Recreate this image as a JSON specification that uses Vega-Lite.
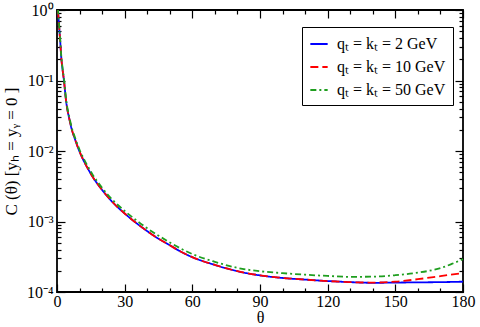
{
  "$schema": "https://vega.github.io/schema/vega-lite/v6.json",
  "width": 406,
  "height": 282,
  "autosize": "none",
  "padding": {"left": 57, "top": 10, "right": 17, "bottom": 35},
  "config": {
    "view": {"stroke": "black", "strokeWidth": 1.8},
    "axis": {
      "grid": false,
      "labelFont": "Liberation Serif",
      "labelFontSize": 16,
      "labelColor": "black",
      "titleFont": "Liberation Serif",
      "titleFontSize": 16,
      "titleFontWeight": "normal",
      "titleColor": "black",
      "tickColor": "black",
      "tickWidth": 1.2,
      "domain": false
    },
    "legend": {
      "labelFont": "Liberation Serif",
      "labelFontSize": 16,
      "labelColor": "black"
    }
  },
  "datasets": {
    "curves": [
      {"theta": 0.4, "C": 1.0, "series": "qₜ = kₜ = 2 GeV"},
      {"theta": 0.7, "C": 0.75, "series": "qₜ = kₜ = 2 GeV"},
      {"theta": 1.0, "C": 0.55, "series": "qₜ = kₜ = 2 GeV"},
      {"theta": 1.4, "C": 0.37, "series": "qₜ = kₜ = 2 GeV"},
      {"theta": 1.9, "C": 0.21, "series": "qₜ = kₜ = 2 GeV"},
      {"theta": 2.5, "C": 0.14, "series": "qₜ = kₜ = 2 GeV"},
      {"theta": 3.1, "C": 0.099, "series": "qₜ = kₜ = 2 GeV"},
      {"theta": 4, "C": 0.052, "series": "qₜ = kₜ = 2 GeV"},
      {"theta": 4.6, "C": 0.0387, "series": "qₜ = kₜ = 2 GeV"},
      {"theta": 5.5, "C": 0.0282, "series": "qₜ = kₜ = 2 GeV"},
      {"theta": 6.5, "C": 0.0205, "series": "qₜ = kₜ = 2 GeV"},
      {"theta": 8, "C": 0.0146, "series": "qₜ = kₜ = 2 GeV"},
      {"theta": 10, "C": 0.0098, "series": "qₜ = kₜ = 2 GeV"},
      {"theta": 12, "C": 0.0071, "series": "qₜ = kₜ = 2 GeV"},
      {"theta": 14, "C": 0.0054, "series": "qₜ = kₜ = 2 GeV"},
      {"theta": 16, "C": 0.0042, "series": "qₜ = kₜ = 2 GeV"},
      {"theta": 18, "C": 0.0034, "series": "qₜ = kₜ = 2 GeV"},
      {"theta": 20, "C": 0.0028, "series": "qₜ = kₜ = 2 GeV"},
      {"theta": 25, "C": 0.00183, "series": "qₜ = kₜ = 2 GeV"},
      {"theta": 30, "C": 0.0013, "series": "qₜ = kₜ = 2 GeV"},
      {"theta": 35, "C": 0.00096, "series": "qₜ = kₜ = 2 GeV"},
      {"theta": 40, "C": 0.00073, "series": "qₜ = kₜ = 2 GeV"},
      {"theta": 45, "C": 0.00057, "series": "qₜ = kₜ = 2 GeV"},
      {"theta": 50, "C": 0.00046, "series": "qₜ = kₜ = 2 GeV"},
      {"theta": 55, "C": 0.000372, "series": "qₜ = kₜ = 2 GeV"},
      {"theta": 60, "C": 0.000312, "series": "qₜ = kₜ = 2 GeV"},
      {"theta": 70, "C": 0.000242, "series": "qₜ = kₜ = 2 GeV"},
      {"theta": 80, "C": 0.000197, "series": "qₜ = kₜ = 2 GeV"},
      {"theta": 90, "C": 0.000172, "series": "qₜ = kₜ = 2 GeV"},
      {"theta": 100, "C": 0.000158, "series": "qₜ = kₜ = 2 GeV"},
      {"theta": 110, "C": 0.00015, "series": "qₜ = kₜ = 2 GeV"},
      {"theta": 120, "C": 0.000143, "series": "qₜ = kₜ = 2 GeV"},
      {"theta": 130, "C": 0.000138, "series": "qₜ = kₜ = 2 GeV"},
      {"theta": 140, "C": 0.000135, "series": "qₜ = kₜ = 2 GeV"},
      {"theta": 150, "C": 0.000136, "series": "qₜ = kₜ = 2 GeV"},
      {"theta": 160, "C": 0.000137, "series": "qₜ = kₜ = 2 GeV"},
      {"theta": 170, "C": 0.000138, "series": "qₜ = kₜ = 2 GeV"},
      {"theta": 180, "C": 0.00014, "series": "qₜ = kₜ = 2 GeV"},

      {"theta": 0.4, "C": 1.0, "series": "qₜ = kₜ = 10 GeV"},
      {"theta": 0.7, "C": 0.75, "series": "qₜ = kₜ = 10 GeV"},
      {"theta": 1.0, "C": 0.55, "series": "qₜ = kₜ = 10 GeV"},
      {"theta": 1.4, "C": 0.37, "series": "qₜ = kₜ = 10 GeV"},
      {"theta": 1.9, "C": 0.21, "series": "qₜ = kₜ = 10 GeV"},
      {"theta": 2.5, "C": 0.14, "series": "qₜ = kₜ = 10 GeV"},
      {"theta": 3.1, "C": 0.099, "series": "qₜ = kₜ = 10 GeV"},
      {"theta": 4, "C": 0.052, "series": "qₜ = kₜ = 10 GeV"},
      {"theta": 4.6, "C": 0.0387, "series": "qₜ = kₜ = 10 GeV"},
      {"theta": 5.5, "C": 0.0282, "series": "qₜ = kₜ = 10 GeV"},
      {"theta": 6.5, "C": 0.0205, "series": "qₜ = kₜ = 10 GeV"},
      {"theta": 8, "C": 0.0146, "series": "qₜ = kₜ = 10 GeV"},
      {"theta": 10, "C": 0.0098, "series": "qₜ = kₜ = 10 GeV"},
      {"theta": 12, "C": 0.0071, "series": "qₜ = kₜ = 10 GeV"},
      {"theta": 14, "C": 0.0054, "series": "qₜ = kₜ = 10 GeV"},
      {"theta": 16, "C": 0.0042, "series": "qₜ = kₜ = 10 GeV"},
      {"theta": 18, "C": 0.0034, "series": "qₜ = kₜ = 10 GeV"},
      {"theta": 20, "C": 0.0028, "series": "qₜ = kₜ = 10 GeV"},
      {"theta": 25, "C": 0.00183, "series": "qₜ = kₜ = 10 GeV"},
      {"theta": 30, "C": 0.0013, "series": "qₜ = kₜ = 10 GeV"},
      {"theta": 35, "C": 0.00096, "series": "qₜ = kₜ = 10 GeV"},
      {"theta": 40, "C": 0.00073, "series": "qₜ = kₜ = 10 GeV"},
      {"theta": 45, "C": 0.00057, "series": "qₜ = kₜ = 10 GeV"},
      {"theta": 50, "C": 0.00046, "series": "qₜ = kₜ = 10 GeV"},
      {"theta": 55, "C": 0.000372, "series": "qₜ = kₜ = 10 GeV"},
      {"theta": 60, "C": 0.000312, "series": "qₜ = kₜ = 10 GeV"},
      {"theta": 70, "C": 0.000242, "series": "qₜ = kₜ = 10 GeV"},
      {"theta": 80, "C": 0.000197, "series": "qₜ = kₜ = 10 GeV"},
      {"theta": 90, "C": 0.000172, "series": "qₜ = kₜ = 10 GeV"},
      {"theta": 100, "C": 0.000158, "series": "qₜ = kₜ = 10 GeV"},
      {"theta": 110, "C": 0.00015, "series": "qₜ = kₜ = 10 GeV"},
      {"theta": 120, "C": 0.000143, "series": "qₜ = kₜ = 10 GeV"},
      {"theta": 130, "C": 0.000138, "series": "qₜ = kₜ = 10 GeV"},
      {"theta": 140, "C": 0.000136, "series": "qₜ = kₜ = 10 GeV"},
      {"theta": 150, "C": 0.00014, "series": "qₜ = kₜ = 10 GeV"},
      {"theta": 160, "C": 0.000152, "series": "qₜ = kₜ = 10 GeV"},
      {"theta": 170, "C": 0.000168, "series": "qₜ = kₜ = 10 GeV"},
      {"theta": 180, "C": 0.000186, "series": "qₜ = kₜ = 10 GeV"},

      {"theta": 0.4, "C": 1.05, "series": "qₜ = kₜ = 50 GeV"},
      {"theta": 0.7, "C": 0.79, "series": "qₜ = kₜ = 50 GeV"},
      {"theta": 1.0, "C": 0.58, "series": "qₜ = kₜ = 50 GeV"},
      {"theta": 1.4, "C": 0.39, "series": "qₜ = kₜ = 50 GeV"},
      {"theta": 1.9, "C": 0.222, "series": "qₜ = kₜ = 50 GeV"},
      {"theta": 2.5, "C": 0.148, "series": "qₜ = kₜ = 50 GeV"},
      {"theta": 3.1, "C": 0.105, "series": "qₜ = kₜ = 50 GeV"},
      {"theta": 4, "C": 0.055, "series": "qₜ = kₜ = 50 GeV"},
      {"theta": 4.6, "C": 0.041, "series": "qₜ = kₜ = 50 GeV"},
      {"theta": 5.5, "C": 0.030, "series": "qₜ = kₜ = 50 GeV"},
      {"theta": 6.5, "C": 0.0217, "series": "qₜ = kₜ = 50 GeV"},
      {"theta": 8, "C": 0.0155, "series": "qₜ = kₜ = 50 GeV"},
      {"theta": 10, "C": 0.0104, "series": "qₜ = kₜ = 50 GeV"},
      {"theta": 12, "C": 0.0076, "series": "qₜ = kₜ = 50 GeV"},
      {"theta": 14, "C": 0.0058, "series": "qₜ = kₜ = 50 GeV"},
      {"theta": 16, "C": 0.0045, "series": "qₜ = kₜ = 50 GeV"},
      {"theta": 18, "C": 0.00365, "series": "qₜ = kₜ = 50 GeV"},
      {"theta": 20, "C": 0.003, "series": "qₜ = kₜ = 50 GeV"},
      {"theta": 25, "C": 0.00197, "series": "qₜ = kₜ = 50 GeV"},
      {"theta": 30, "C": 0.00141, "series": "qₜ = kₜ = 50 GeV"},
      {"theta": 35, "C": 0.00105, "series": "qₜ = kₜ = 50 GeV"},
      {"theta": 40, "C": 0.0008, "series": "qₜ = kₜ = 50 GeV"},
      {"theta": 45, "C": 0.00063, "series": "qₜ = kₜ = 50 GeV"},
      {"theta": 50, "C": 0.000505, "series": "qₜ = kₜ = 50 GeV"},
      {"theta": 55, "C": 0.000411, "series": "qₜ = kₜ = 50 GeV"},
      {"theta": 60, "C": 0.000345, "series": "qₜ = kₜ = 50 GeV"},
      {"theta": 70, "C": 0.000268, "series": "qₜ = kₜ = 50 GeV"},
      {"theta": 80, "C": 0.00022, "series": "qₜ = kₜ = 50 GeV"},
      {"theta": 90, "C": 0.000197, "series": "qₜ = kₜ = 50 GeV"},
      {"theta": 100, "C": 0.000185, "series": "qₜ = kₜ = 50 GeV"},
      {"theta": 110, "C": 0.000176, "series": "qₜ = kₜ = 50 GeV"},
      {"theta": 120, "C": 0.000169, "series": "qₜ = kₜ = 50 GeV"},
      {"theta": 130, "C": 0.000164, "series": "qₜ = kₜ = 50 GeV"},
      {"theta": 140, "C": 0.000165, "series": "qₜ = kₜ = 50 GeV"},
      {"theta": 150, "C": 0.000173, "series": "qₜ = kₜ = 50 GeV"},
      {"theta": 160, "C": 0.000188, "series": "qₜ = kₜ = 50 GeV"},
      {"theta": 165, "C": 0.0002, "series": "qₜ = kₜ = 50 GeV"},
      {"theta": 170, "C": 0.000218, "series": "qₜ = kₜ = 50 GeV"},
      {"theta": 175, "C": 0.00025, "series": "qₜ = kₜ = 50 GeV"},
      {"theta": 180, "C": 0.000293, "series": "qₜ = kₜ = 50 GeV"}
    ]
  },
  "data": {"name": "curves"},
  "layer": [
    {
      "mark": {"type": "line", "clip": true, "interpolate": "monotone", "strokeWidth": 1.8},
      "encoding": {
        "x": {
          "field": "theta", "type": "quantitative",
          "scale": {"domain": [0, 180], "nice": false, "zero": false},
          "axis": {
            "orient": "bottom",
            "title": "θ",
            "values": [0, 10, 20, 30, 40, 50, 60, 70, 80, 90, 100, 110, 120, 130, 140, 150, 160, 170, 180],
            "labelExpr": "datum.value % 30 === 0 ? datum.label : ''",
            "tickSize": {"condition": {"test": "datum.value % 30 === 0", "value": -8}, "value": -4},
            "labelPadding": 9,
            "titlePadding": -4,
            "labelFlush": false,
            "labelOverlap": false
          }
        },
        "y": {
          "field": "C", "type": "quantitative",
          "scale": {"type": "log", "domain": [0.0001, 1], "nice": false},
          "axis": {
            "orient": "left",
            "title": "C (θ)  [yₕ = yᵧ = 0 ]",
            "titleFontSize": 17,
            "values": [0.0001, 0.0002, 0.0003, 0.0004, 0.0005, 0.0006, 0.0007, 0.0008, 0.0009, 0.001, 0.002, 0.003, 0.004, 0.005, 0.006, 0.007, 0.008, 0.009, 0.01, 0.02, 0.03, 0.04, 0.05, 0.06, 0.07, 0.08, 0.09, 0.1, 0.2, 0.3, 0.4, 0.5, 0.6, 0.7, 0.8, 0.9, 1],
            "labelExpr": "datum.value == 1 ? '10⁰' : datum.value == 0.1 ? '10⁻¹' : datum.value == 0.01 ? '10⁻²' : datum.value == 0.001 ? '10⁻³' : datum.value == 0.0001 ? '10⁻⁴' : ''",
            "tickSize": {"condition": {"test": "datum.value == 1 || datum.value == 0.1 || datum.value == 0.01 || datum.value == 0.001 || datum.value == 0.0001", "value": -8}, "value": -4},
            "labelPadding": 12,
            "titlePadding": 6,
            "labelFlush": false,
            "labelOverlap": false
          }
        },
        "color": {
          "field": "series", "type": "nominal",
          "scale": {"domain": ["qₜ = kₜ = 2 GeV", "qₜ = kₜ = 10 GeV", "qₜ = kₜ = 50 GeV"], "range": ["#0000ff", "#ff0000", "#1f9e1f"]},
          "legend": {
            "title": null,
            "orient": "none",
            "legendX": 245,
            "legendY": 17,
            "strokeColor": "black",
            "fillColor": "white",
            "padding": 7,
            "symbolType": "stroke",
            "symbolSize": 300,
            "symbolStrokeWidth": 2,
            "rowPadding": 5,
            "labelOffset": 8
          }
        },
        "strokeDash": {
          "field": "series", "type": "nominal",
          "scale": {"domain": ["qₜ = kₜ = 2 GeV", "qₜ = kₜ = 10 GeV", "qₜ = kₜ = 50 GeV"], "range": [[1, 0], [8, 4], [6, 3, 2, 3]]},
          "legend": {
            "title": null,
            "orient": "none",
            "legendX": 245,
            "legendY": 17,
            "strokeColor": "black",
            "fillColor": "white",
            "padding": 7,
            "symbolType": "stroke",
            "symbolSize": 300,
            "symbolStrokeWidth": 2,
            "rowPadding": 5,
            "labelOffset": 8
          }
        }
      }
    },
    {
      "mark": {"type": "line", "opacity": 0},
      "encoding": {
        "x": {
          "field": "theta", "type": "quantitative",
          "scale": {"domain": [0, 180], "nice": false, "zero": false},
          "axis": {
            "orient": "top",
            "title": null,
            "labels": false,
            "values": [0, 10, 20, 30, 40, 50, 60, 70, 80, 90, 100, 110, 120, 130, 140, 150, 160, 170, 180],
            "tickSize": {"condition": {"test": "datum.value % 30 === 0", "value": -8}, "value": -4}
          }
        },
        "y": {
          "field": "C", "type": "quantitative",
          "scale": {"type": "log", "domain": [0.0001, 1], "nice": false},
          "axis": {
            "orient": "right",
            "title": null,
            "labels": false,
            "values": [0.0001, 0.0002, 0.0003, 0.0004, 0.0005, 0.0006, 0.0007, 0.0008, 0.0009, 0.001, 0.002, 0.003, 0.004, 0.005, 0.006, 0.007, 0.008, 0.009, 0.01, 0.02, 0.03, 0.04, 0.05, 0.06, 0.07, 0.08, 0.09, 0.1, 0.2, 0.3, 0.4, 0.5, 0.6, 0.7, 0.8, 0.9, 1],
            "tickSize": {"condition": {"test": "datum.value == 1 || datum.value == 0.1 || datum.value == 0.01 || datum.value == 0.001 || datum.value == 0.0001", "value": -8}, "value": -4}
          }
        },
        "detail": {"field": "series"}
      }
    }
  ],
  "resolve": {"axis": {"x": "independent", "y": "independent"}}
}
